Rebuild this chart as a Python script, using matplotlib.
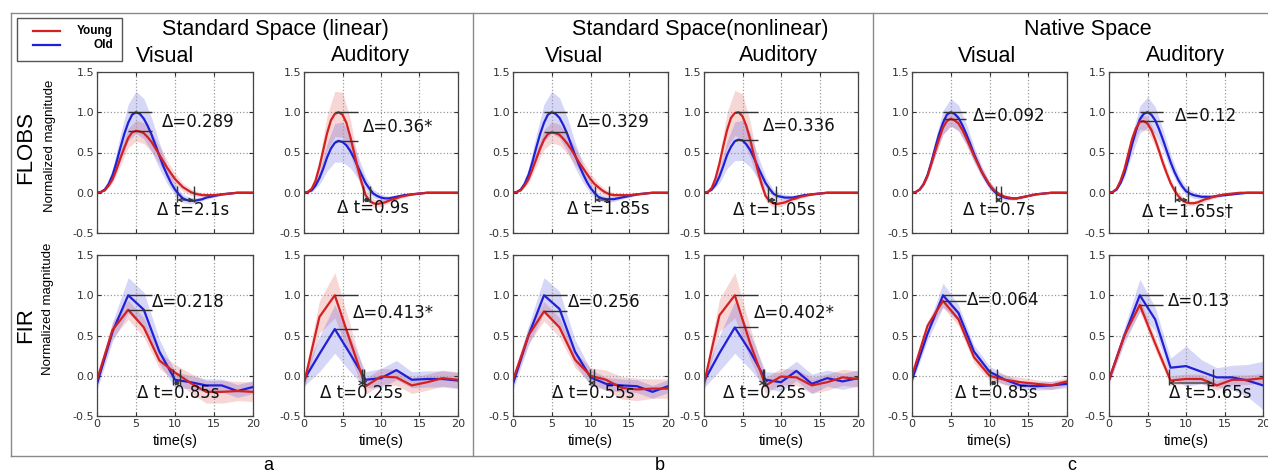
import matplotlib
matplotlib.use("Agg")
import matplotlib.pyplot as plt
from matplotlib.lines import Line2D
from matplotlib.patches import Rectangle

# ---------------- data ----------------
# FLOBS means read every 0.5 s, FLOBS bands every 1 s, FIR every 2 s
t_flobs_fine = [i * 0.5 for i in range(41)]
t_flobs = [0, 1, 2, 3, 4, 5, 6, 7, 8, 9, 10, 11, 12, 13, 14, 15, 16, 17, 18, 19, 20]
t_fir = [0, 2, 4, 6, 8, 10, 12, 14, 16, 18, 20]

groups = ["Standard Space (linear)", "Standard Space(nonlinear)", "Native Space"]
group_letters = ["a", "b", "c"]
conditions = ["Visual", "Auditory"]
rows = ["FLOBS", "FIR"]
series_names = ["Young", "Old"]

# FLOBS (row 1)
flobs_lin_vis_young = [0, 0.01, 0.03, 0.09, 0.17, 0.29, 0.43, 0.56, 0.68, 0.75, 0.77,
                       0.76, 0.74, 0.69, 0.63, 0.55, 0.47, 0.39, 0.31, 0.24, 0.17,
                       0.12, 0.07, 0.04, 0.01, -0.01, -0.02, -0.03, -0.03, -0.03, -0.03,
                       -0.025, -0.02, -0.015, -0.01, -0.005, 0, 0, 0, 0, 0]
flobs_lin_vis_old = [0, 0.01, 0.04, 0.11, 0.22, 0.38, 0.56, 0.73, 0.87, 0.97, 1.0,
                     0.98, 0.92, 0.83, 0.72, 0.59, 0.46, 0.33, 0.22, 0.12, 0.04,
                     -0.02, -0.07, -0.09, -0.1, -0.1, -0.09, -0.08, -0.06, -0.05, -0.04,
                     -0.03, -0.02, -0.015, -0.01, -0.005, 0, 0, 0, 0, 0]
flobs_lin_vis_young_sd = [0, 0.01, 0.05, 0.09, 0.12, 0.13, 0.13, 0.12, 0.11, 0.09, 0.07, 0.05, 0.04, 0.03, 0.02, 0.02, 0.01, 0.01, 0, 0, 0]
flobs_lin_vis_old_sd = [0, 0.02, 0.08, 0.16, 0.23, 0.26, 0.25, 0.21, 0.16, 0.11, 0.07, 0.05, 0.04, 0.03, 0.02, 0.02, 0.01, 0.01, 0, 0, 0]

flobs_lin_aud_young = [0, 0.01, 0.05, 0.15, 0.32, 0.53, 0.74, 0.9, 0.98, 1.0, 0.97,
                       0.87, 0.7, 0.5, 0.3, 0.12, -0.03, -0.1, -0.13, -0.14, -0.13,
                       -0.12, -0.1, -0.08, -0.07, -0.05, -0.04, -0.03, -0.02, -0.015, -0.01,
                       -0.005, 0, 0, 0, 0, 0, 0, 0, 0, 0]
flobs_lin_aud_old = [0, 0.01, 0.03, 0.09, 0.18, 0.3, 0.44, 0.55, 0.62, 0.645, 0.63,
                     0.59, 0.52, 0.43, 0.32, 0.22, 0.12, 0.05, -0.01, -0.04, -0.06,
                     -0.07, -0.07, -0.06, -0.05, -0.04, -0.03, -0.025, -0.02, -0.015, -0.01,
                     -0.005, 0, 0, 0, 0, 0, 0, 0, 0, 0]
flobs_lin_aud_young_sd = [0, 0.02, 0.1, 0.22, 0.28, 0.28, 0.22, 0.12, 0.06, 0.05, 0.04, 0.03, 0.02, 0.02, 0.01, 0.01, 0, 0, 0, 0, 0]
flobs_lin_aud_old_sd = [0, 0.02, 0.08, 0.17, 0.24, 0.25, 0.21, 0.14, 0.08, 0.05, 0.04, 0.03, 0.02, 0.02, 0.01, 0.01, 0, 0, 0, 0, 0]

flobs_nonlin_vis_young = [0, 0.01, 0.03, 0.09, 0.17, 0.29, 0.42, 0.55, 0.66, 0.73, 0.75,
                          0.74, 0.72, 0.67, 0.61, 0.54, 0.46, 0.38, 0.31, 0.24, 0.17,
                          0.11, 0.07, 0.03, 0.0, -0.02, -0.03, -0.03, -0.03, -0.03, -0.03,
                          -0.025, -0.02, -0.015, -0.01, -0.005, 0, 0, 0, 0, 0]
flobs_nonlin_vis_old = [0, 0.01, 0.04, 0.11, 0.22, 0.38, 0.56, 0.73, 0.87, 0.97, 1.0,
                        0.98, 0.93, 0.84, 0.73, 0.6, 0.47, 0.35, 0.24, 0.14, 0.06,
                        0.0, -0.05, -0.07, -0.08, -0.08, -0.08, -0.07, -0.06, -0.05, -0.04,
                        -0.03, -0.02, -0.015, -0.01, -0.005, 0, 0, 0, 0, 0]
flobs_nonlin_vis_young_sd = [0, 0.01, 0.05, 0.09, 0.12, 0.13, 0.13, 0.12, 0.11, 0.09, 0.07, 0.05, 0.04, 0.03, 0.02, 0.02, 0.01, 0.01, 0, 0, 0]
flobs_nonlin_vis_old_sd = [0, 0.02, 0.08, 0.16, 0.23, 0.26, 0.25, 0.21, 0.16, 0.11, 0.07, 0.05, 0.04, 0.03, 0.02, 0.02, 0.01, 0.01, 0, 0, 0]

flobs_nonlin_aud_young = [0, 0.01, 0.06, 0.18, 0.36, 0.58, 0.78, 0.93, 0.99, 1.0, 0.95,
                          0.83, 0.66, 0.46, 0.27, 0.1, -0.04, -0.1, -0.13, -0.14, -0.13,
                          -0.12, -0.1, -0.08, -0.07, -0.05, -0.04, -0.03, -0.02, -0.015, -0.01,
                          -0.005, 0, 0, 0, 0, 0, 0, 0, 0, 0]
flobs_nonlin_aud_old = [0, 0.01, 0.04, 0.1, 0.2, 0.33, 0.47, 0.57, 0.64, 0.66, 0.65,
                        0.6, 0.53, 0.43, 0.32, 0.22, 0.12, 0.05, -0.01, -0.04, -0.05,
                        -0.06, -0.06, -0.06, -0.05, -0.04, -0.03, -0.025, -0.02, -0.015, -0.01,
                        -0.005, 0, 0, 0, 0, 0, 0, 0, 0, 0]
flobs_nonlin_aud_young_sd = [0, 0.02, 0.1, 0.22, 0.28, 0.28, 0.22, 0.12, 0.06, 0.05, 0.04, 0.03, 0.02, 0.02, 0.01, 0.01, 0, 0, 0, 0, 0]
flobs_nonlin_aud_old_sd = [0, 0.02, 0.08, 0.17, 0.24, 0.25, 0.21, 0.14, 0.08, 0.05, 0.04, 0.03, 0.02, 0.02, 0.01, 0.01, 0, 0, 0, 0, 0]

flobs_native_vis_young = [0, 0.01, 0.04, 0.1, 0.21, 0.36, 0.52, 0.67, 0.81, 0.89, 0.92,
                          0.9, 0.86, 0.78, 0.68, 0.57, 0.46, 0.36, 0.26, 0.18, 0.1,
                          0.04, 0.0, -0.03, -0.05, -0.06, -0.07, -0.07, -0.06, -0.05, -0.04,
                          -0.03, -0.02, -0.015, -0.01, -0.005, 0, 0, 0, 0, 0]
flobs_native_vis_old = [0, 0.01, 0.04, 0.11, 0.22, 0.38, 0.56, 0.73, 0.87, 0.97, 1.0,
                        0.98, 0.93, 0.84, 0.73, 0.61, 0.48, 0.37, 0.26, 0.17, 0.09,
                        0.03, -0.02, -0.04, -0.06, -0.07, -0.07, -0.07, -0.06, -0.05, -0.04,
                        -0.03, -0.02, -0.015, -0.01, -0.005, 0, 0, 0, 0, 0]
flobs_native_vis_young_sd = [0, 0.01, 0.03, 0.06, 0.08, 0.09, 0.09, 0.08, 0.07, 0.05, 0.04, 0.03, 0.02, 0.02, 0.01, 0.01, 0, 0, 0, 0, 0]
flobs_native_vis_old_sd = [0, 0.01, 0.05, 0.1, 0.15, 0.17, 0.16, 0.13, 0.1, 0.07, 0.05, 0.04, 0.03, 0.02, 0.02, 0.01, 0.01, 0, 0, 0, 0]

flobs_native_aud_young = [0, 0.01, 0.05, 0.15, 0.29, 0.48, 0.67, 0.8, 0.88, 0.89, 0.86,
                          0.78, 0.66, 0.52, 0.37, 0.24, 0.12, 0.03, -0.04, -0.09, -0.12,
                          -0.13, -0.13, -0.12, -0.1, -0.08, -0.07, -0.05, -0.04, -0.03, -0.02,
                          -0.015, -0.01, -0.005, 0, 0, 0, 0, 0, 0, 0]
flobs_native_aud_old = [0, 0.01, 0.04, 0.12, 0.24, 0.41, 0.6, 0.77, 0.91, 0.98, 1.0,
                        0.97, 0.9, 0.79, 0.66, 0.52, 0.38, 0.26, 0.16, 0.08, 0.02,
                        -0.01, -0.03, -0.04, -0.05, -0.05, -0.05, -0.05, -0.04, -0.035, -0.03,
                        -0.025, -0.02, -0.015, -0.01, -0.005, 0, 0, 0, 0, 0]
flobs_native_aud_young_sd = [0, 0.01, 0.04, 0.07, 0.09, 0.09, 0.08, 0.07, 0.05, 0.04, 0.04, 0.03, 0.03, 0.02, 0.02, 0.01, 0.01, 0, 0, 0, 0]
flobs_native_aud_old_sd = [0, 0.01, 0.06, 0.12, 0.17, 0.19, 0.17, 0.13, 0.1, 0.07, 0.05, 0.04, 0.03, 0.02, 0.02, 0.01, 0.01, 0, 0, 0, 0]

# FIR (row 2)
fir_lin_vis_young = [-0.05, 0.57, 0.82, 0.6, 0.19, 0.04, -0.09, -0.2, -0.2, -0.19, -0.2]
fir_lin_vis_old = [-0.1, 0.55, 1.0, 0.82, 0.3, -0.05, -0.08, -0.12, -0.12, -0.19, -0.14]
fir_lin_vis_young_sd = [0.06, 0.1, 0.12, 0.12, 0.1, 0.1, 0.12, 0.14, 0.14, 0.12, 0.12]
fir_lin_vis_old_sd = [0.08, 0.12, 0.22, 0.22, 0.15, 0.1, 0.08, 0.08, 0.08, 0.08, 0.08]

fir_lin_aud_young = [-0.1, 0.73, 1.0, 0.43, -0.13, -0.01, -0.02, -0.12, -0.08, -0.03, -0.05]
fir_lin_aud_old = [-0.05, 0.27, 0.58, 0.27, -0.05, -0.03, 0.07, -0.05, -0.04, -0.04, -0.06]
fir_lin_aud_young_sd = [0.08, 0.2, 0.28, 0.2, 0.1, 0.1, 0.1, 0.1, 0.1, 0.1, 0.1]
fir_lin_aud_old_sd = [0.08, 0.22, 0.3, 0.22, 0.1, 0.12, 0.12, 0.1, 0.1, 0.1, 0.1]

fir_nonlin_vis_young = [-0.05, 0.5, 0.8, 0.6, 0.2, 0.0, -0.05, -0.15, -0.17, -0.16, -0.16]
fir_nonlin_vis_old = [-0.1, 0.5, 1.0, 0.83, 0.3, -0.02, -0.1, -0.12, -0.13, -0.2, -0.13]
fir_nonlin_vis_young_sd = [0.06, 0.1, 0.12, 0.12, 0.1, 0.1, 0.12, 0.14, 0.14, 0.12, 0.12]
fir_nonlin_vis_old_sd = [0.08, 0.12, 0.22, 0.22, 0.15, 0.1, 0.08, 0.08, 0.08, 0.08, 0.08]

fir_nonlin_aud_young = [-0.1, 0.75, 1.0, 0.4, -0.12, -0.01, -0.02, -0.12, -0.08, -0.02, -0.04]
fir_nonlin_aud_old = [-0.07, 0.28, 0.6, 0.3, -0.05, -0.08, 0.06, -0.1, -0.03, -0.07, -0.03]
fir_nonlin_aud_young_sd = [0.08, 0.2, 0.28, 0.2, 0.1, 0.1, 0.1, 0.1, 0.1, 0.1, 0.1]
fir_nonlin_aud_old_sd = [0.08, 0.22, 0.32, 0.22, 0.1, 0.12, 0.12, 0.12, 0.1, 0.1, 0.1]

fir_native_vis_young = [0.0, 0.62, 0.93, 0.7, 0.23, 0.0, -0.05, -0.08, -0.1, -0.12, -0.07]
fir_native_vis_old = [-0.05, 0.52, 1.0, 0.78, 0.3, 0.05, -0.05, -0.12, -0.13, -0.12, -0.1]
fir_native_vis_young_sd = [0.04, 0.06, 0.08, 0.08, 0.07, 0.06, 0.06, 0.06, 0.05, 0.05, 0.05]
fir_native_vis_old_sd = [0.05, 0.08, 0.15, 0.1, 0.08, 0.07, 0.06, 0.05, 0.05, 0.05, 0.05]

fir_native_aud_young = [-0.05, 0.5, 0.88, 0.4, -0.06, -0.04, -0.04, -0.12, -0.05, -0.05, -0.03]
fir_native_aud_old = [-0.05, 0.5, 1.0, 0.7, 0.1, 0.12, 0.05, -0.02, -0.02, -0.06, -0.12]
fir_native_aud_young_sd = [0.05, 0.06, 0.08, 0.08, 0.06, 0.06, 0.06, 0.06, 0.06, 0.06, 0.06]
fir_native_aud_old_sd = [0.05, 0.1, 0.2, 0.15, 0.12, 0.25, 0.15, 0.12, 0.15, 0.2, 0.3]

# annotations (row 1 then row 2, left to right)
delta_labels = ["\u0394=0.289", "\u0394=0.36*", "\u0394=0.329", "\u0394=0.336", "\u0394=0.092", "\u0394=0.12",
                "\u0394=0.218", "\u0394=0.413*", "\u0394=0.256", "\u0394=0.402*", "\u0394=0.064", "\u0394=0.13"]
dt_labels = ["\u0394 t=2.1s", "\u0394 t=0.9s", "\u0394 t=1.85s", "\u0394 t=1.05s", "\u0394 t=0.7s", "\u0394 t=1.65s\u2020",
             "\u0394 t=0.85s", "\u0394 t=0.25s", "\u0394 t=0.55s", "\u0394 t=0.25s", "\u0394 t=0.85s", "\u0394 t=5.65s"]
dt_start = [10.3, 7.7, 10.6, 8.3, 10.8, 8.6, 9.8, 7.5, 9.9, 7.6, 10.1, 7.8]
dt_end = [12.4, 8.6, 12.45, 9.35, 11.5, 10.25, 10.65, 7.75, 10.45, 7.85, 10.95, 13.45]

# ---------------- layout / style ----------------
W, H = 1268, 475
RED = "#d42020"
BLUE = "#2020d8"
TITLE_FONT = "Liberation Sans"

panel_series = [
    (flobs_lin_vis_young, flobs_lin_vis_young_sd, flobs_lin_vis_old, flobs_lin_vis_old_sd),
    (flobs_lin_aud_young, flobs_lin_aud_young_sd, flobs_lin_aud_old, flobs_lin_aud_old_sd),
    (flobs_nonlin_vis_young, flobs_nonlin_vis_young_sd, flobs_nonlin_vis_old, flobs_nonlin_vis_old_sd),
    (flobs_nonlin_aud_young, flobs_nonlin_aud_young_sd, flobs_nonlin_aud_old, flobs_nonlin_aud_old_sd),
    (flobs_native_vis_young, flobs_native_vis_young_sd, flobs_native_vis_old, flobs_native_vis_old_sd),
    (flobs_native_aud_young, flobs_native_aud_young_sd, flobs_native_aud_old, flobs_native_aud_old_sd),
    (fir_lin_vis_young, fir_lin_vis_young_sd, fir_lin_vis_old, fir_lin_vis_old_sd),
    (fir_lin_aud_young, fir_lin_aud_young_sd, fir_lin_aud_old, fir_lin_aud_old_sd),
    (fir_nonlin_vis_young, fir_nonlin_vis_young_sd, fir_nonlin_vis_old, fir_nonlin_vis_old_sd),
    (fir_nonlin_aud_young, fir_nonlin_aud_young_sd, fir_nonlin_aud_old, fir_nonlin_aud_old_sd),
    (fir_native_vis_young, fir_native_vis_young_sd, fir_native_vis_old, fir_native_vis_old_sd),
    (fir_native_aud_young, fir_native_aud_young_sd, fir_native_aud_old, fir_native_aud_old_sd),
]

delta_text_pos = [(8.3, 0.88), (7.6, 0.82), (8.3, 0.88), (7.6, 0.83), (7.9, 0.95), (8.6, 0.95),
                  (7.0, 0.92), (6.3, 0.78), (7.1, 0.92), (6.5, 0.78), (7.1, 0.94), (7.6, 0.93)]
dt_text_pos = [(7.7, -0.22), (4.3, -0.19), (7.0, -0.2), (3.8, -0.21), (6.6, -0.21), (4.3, -0.23),
               (5.1, -0.22), (2.1, -0.22), (5.0, -0.21), (2.5, -0.22), (5.5, -0.22), (7.8, -0.22)]

col_px = [(97, 253), (304, 458), (513, 668), (704, 858), (912, 1067), (1109, 1263)]
row_px = [(72, 233), (255, 416)]

fig = plt.figure(figsize=(W / 100, H / 100), dpi=100)


def fx(x):
    return x / W


def fy(y):
    return 1 - y / H


for idx, (yv, ysd, ov, osd) in enumerate(panel_series):
    r, c = divmod(idx, 6)
    (x0, x1), (y0, y1) = col_px[c], row_px[r]
    ax = fig.add_axes([fx(x0), fy(y1), (x1 - x0) / W, (y1 - y0) / H])
    if r == 0:
        t_line, t_band = t_flobs_fine, t_flobs
        yb, ob = yv[::2], ov[::2]
    else:
        t_line, t_band = t_fir, t_fir
        yb, ob = yv, ov
    ax.fill_between(t_band, [a - b for a, b in zip(yb, ysd)], [a + b for a, b in zip(yb, ysd)],
                    color=RED, alpha=0.18, lw=0)
    ax.fill_between(t_band, [a - b for a, b in zip(ob, osd)], [a + b for a, b in zip(ob, osd)],
                    color=BLUE, alpha=0.18, lw=0)
    ax.plot(t_line, ov, color=BLUE, lw=1.6)
    ax.plot(t_line, yv, color=RED, lw=1.6)
    ax.set_xlim(0, 20)
    ax.set_ylim(-0.5, 1.5)
    ax.set_xticks([0, 5, 10, 15, 20])
    ax.set_yticks([-0.5, 0.0, 0.5, 1.0, 1.5])
    ax.set_yticklabels(["-0.5", "0.0", "0.5", "1.0", "1.5"])
    ax.grid(True, linestyle=":", color="#999999", lw=0.9)
    ax.tick_params(direction="in", length=3, labelsize=8, colors="#333333", top=True, right=True, pad=2)
    for s in ax.spines.values():
        s.set_color("#444444")
        s.set_linewidth(0.9)
    if r == 0:
        ax.set_xticklabels([])
    else:
        ax.set_xlabel("time(s)", fontsize=10.5, family=TITLE_FONT, labelpad=4)
    # peak-difference lines
    ax.hlines([max(yv), max(ov)], 4.0, 7.0, color="#333333", lw=1.0)
    ax.text(delta_text_pos[idx][0], delta_text_pos[idx][1], delta_labels[idx],
            fontsize=12, va="center", ha="left", color="#111111")
    # time-difference bracket
    ax.vlines([dt_start[idx], dt_end[idx]], -0.11, 0.08, color="#333333", lw=1.0)
    ax.annotate("", xy=(dt_start[idx], -0.09), xytext=(dt_end[idx], -0.09),
                arrowprops=dict(arrowstyle="<->", color="#333333", lw=0.9,
                                shrinkA=0, shrinkB=0, mutation_scale=6))
    ax.text(dt_text_pos[idx][0], dt_text_pos[idx][1], dt_labels[idx],
            fontsize=12, va="center", ha="left", color="#111111")

# group titles and condition titles
group_centers = [275, 700, 1088]
for g, gx in zip(groups, group_centers):
    fig.text(fx(gx), fy(29), g, fontsize=15.5, family=TITLE_FONT, ha="center", va="center")
cond_centers = [165, 370, 574, 778, 987, 1185]
for i, cx in enumerate(cond_centers):
    fig.text(fx(cx), fy(56), conditions[i % 2], fontsize=15.5, family=TITLE_FONT, ha="center", va="center")

# row labels
fig.text(fx(26), fy(148), rows[0], fontsize=16, family=TITLE_FONT, rotation=90, ha="center", va="center")
fig.text(fx(26), fy(325), rows[1], fontsize=16, family=TITLE_FONT, rotation=90, ha="center", va="center")
fig.text(fx(50), fy(146), "Normalized magnitude", fontsize=9.5, family=TITLE_FONT, rotation=90,
         ha="center", va="center")
fig.text(fx(48), fy(309), "Normalized magnitude", fontsize=9.5, family=TITLE_FONT, rotation=90,
         ha="center", va="center")

# bottom letters
for lt, lx in zip(group_letters, [268, 660, 1072]):
    fig.text(fx(lx), fy(470), lt, fontsize=13, family=TITLE_FONT, ha="center", va="baseline")

# frame lines
frame_kw = dict(color="#8a8a8a", lw=1.0, transform=fig.transFigure)
fig.add_artist(Line2D([fx(11), fx(1268)], [fy(13), fy(13)], **frame_kw))
fig.add_artist(Line2D([fx(11), fx(1268)], [fy(456), fy(456)], **frame_kw))
fig.add_artist(Line2D([fx(11), fx(11)], [fy(13), fy(456)], **frame_kw))
for sx in [473, 873]:
    fig.add_artist(Line2D([fx(sx), fx(sx)], [fy(13), fy(456)], **frame_kw))

# legend (drawn in figure coordinates)
fig.add_artist(Rectangle((fx(17), fy(61)), (122 - 17) / W, (61 - 18) / H, transform=fig.transFigure,
                         fill=False, edgecolor="#555555", lw=1.0))
for name, col, ly in zip(series_names, [RED, BLUE], [31, 45]):
    fig.add_artist(Line2D([fx(33), fx(60)], [fy(ly), fy(ly)], color=col, lw=1.6, transform=fig.transFigure))
    fig.text(fx(113), fy(ly), name, fontsize=8.5, fontweight="bold", family=TITLE_FONT,
             ha="right", va="center")

fig.savefig("out.png", dpi=100)
